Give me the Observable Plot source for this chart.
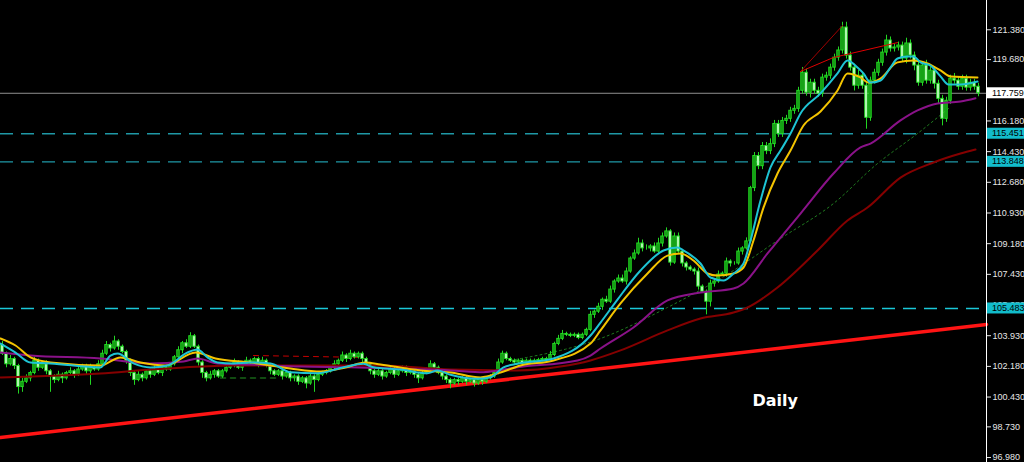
<!DOCTYPE html>
<html><head><meta charset="utf-8">
<script src="https://cdn.jsdelivr.net/npm/d3@7"></script>
<script src="https://cdn.jsdelivr.net/npm/@observablehq/plot@0.6"></script>
<style>
html,body{margin:0;padding:0;background:#000;overflow:hidden;}
svg{display:block;}
</style></head><body><div id="chart"></div>
<script>
// ---- Data (daily candles, index 0 = leftmost) ----
const firstOpen = 103.4;
const closes = [
  102.9,102.3,102.6,102.2,101.0,101.3,101.5,101.8,
  102.5,102.1,102.3,101.9,101.6,101.4,101.7,101.5,101.8,101.9,101.7,102.0,102.2,101.9,102.1,102.0,102.3,
  102.9,103.4,103.2,103.6,103.3,103.0,102.5,
  101.8,101.4,101.7,101.5,101.9,101.7,102.0,101.8,102.1,102.0,102.3,
  102.7,103.1,103.5,103.3,103.9,103.3,102.4,
  101.8,101.5,101.7,101.9,101.6,101.9,102.1,
  102.2,102.4,102.1,102.3,102.5,102.4,102.6,102.3,102.5,102.2,101.9,101.7,101.9,101.6,101.8,101.5,
  101.6,101.3,101.5,101.2,101.6,101.4,101.7,101.8,
  101.9,102.1,102.3,102.5,102.8,102.6,102.9,102.7,102.9,102.6,102.3,101.9,
  101.7,101.9,101.6,101.8,102.0,101.7,101.9,102.1,101.8,101.9,101.7,101.5,101.8,102.0,102.3,102.1,101.8,101.6,
  101.4,101.2,101.4,101.3,101.5,101.3,101.4,101.2,101.4,101.3,101.5,101.6,101.8,102.4,102.9,
  102.6,102.5,102.4,102.5,102.3,102.5,102.4,102.5,
  102.54,102.6,102.54,102.83,103.46,103.75,104.03,103.98,103.92,103.98,103.8,103.98,104.26,
  105.12,105.3,105.58,105.98,105.87,106.56,107.02,107.19,107.02,107.59,108.33,108.62,109.19,108.91,108.91,109.02,108.73,109.19,109.59,109.88,
  108.1,109.59,108.73,108.05,107.82,107.7,107.59,106.73,106.44,105.87,106.9,107.02,107.42,107.47,108.16,108.05,108.05,108.73,108.91,109.31,
  112.35,114.18,113.6,114.75,114.46,114.86,116.01,115.44,116.18,116.3,116.76,116.87,117.9,118.93,117.79,118.36,117.9,117.73,118.65,118.76,119.22,119.79,120.2,121.51,
  119.91,119.22,118.19,118.76,118.19,116.36,118.48,118.93,119.5,120.08,120.77,120.31,120.37,120.48,119.74,120.6,119.91,119.34,118.36,119.34,118.48,119.05,118.3,117.44,116.3,117.33,118.59,118.48,118.13,118.59,118.08,118.36,118.13,117.76
];
const upperWick = [
  .2,.1,.2,.1,.1,.2,.2,.1,
  .2,.1,.1,.2,.1,.1,.2,.1,.1,.2,.1,.2,.1,.1,.2,.1,.2,
  .2,.2,.1,.3,.1,.1,.1,
  .1,.1,.2,.1,.1,.1,.2,.1,.1,.1,.1,
  .1,.2,.1,.2,.2,.1,.1,
  .1,.1,.2,.1,.1,.1,.1,
  .1,.2,.1,.1,.2,.1,.1,.1,.2,.1,.1,.1,.1,.1,.1,.1,
  .1,.1,.1,.1,.2,.1,.1,.1,
  .1,.1,.2,.1,.2,.1,.2,.1,.1,.1,.1,.1,
  .1,.1,.1,.1,.1,.2,.1,.1,.1,.1,.1,.1,.1,.1,.2,.1,.1,.1,
  .1,.1,.1,.1,.1,.1,.1,.1,.1,.1,.1,.1,.1,.2,.15,
  .1,.1,.1,.1,.1,.1,.1,.1,
  .1,.1,.1,.2,.1,.2,.2,.1,.1,.1,.1,.1,.1,
  .2,.1,.2,.1,.2,.2,.1,.2,.2,.2,.1,.2,.3,.2,.2,.1,.2,.3,.2,.2,
  .1,.2,.2,.1,.1,.1,.1,.2,.1,.1,.2,.1,.2,.1,.2,.1,.1,.2,.1,.2,
  .1,.2,.2,.2,.2,.3,.2,.2,.2,.2,.2,.2,.2,.3,.2,.2,.2,.2,.2,.2,.2,.2,.2,.3,
  .3,.2,.2,.3,.2,.2,.2,.2,.2,.2,.3,.2,.2,.2,.2,.3,.2,.2,.2,.2,.3,.2,.2,.2,.2,.2,.2,.3,.2,.2,.2,.2,.2,.2
];
const lowerWick = [
  .1,.2,.1,.2,.4,.3,.1,.2,
  .1,.2,.1,.2,.9,.2,.1,.3,.1,.1,.2,.1,.1,.2,.8,.1,.1,
  .1,.1,.2,.1,.2,.1,.2,
  .2,.3,.1,.2,.1,.2,.1,.1,.2,.1,.1,
  .1,.1,.2,.1,.1,.1,.2,
  .3,.2,.1,.2,.1,.1,.1,
  .1,.1,.1,.2,.1,.1,.1,.2,.1,.1,.2,.1,.1,.2,.1,.2,
  .2,.2,.1,.3,.1,.7,.1,.1,
  .1,.1,.1,.1,.1,.2,.1,.1,.1,.2,.1,.2,
  .2,.1,.2,.1,.1,.2,.1,.1,.2,.1,.2,.3,.1,.1,.1,.2,.1,.2,
  .2,.3,.1,.2,.1,.2,.1,.2,.1,.2,.1,.1,.1,.1,.1,
  .1,.1,.1,.1,.1,.1,.1,.1,
  .1,.1,.1,.1,.1,.1,.1,.1,.1,.1,.1,.1,.1,
  .1,.2,.1,.2,.1,.1,.2,.1,.1,.2,.1,.1,.1,.2,.1,.2,.1,.1,.2,.1,
  .2,.1,.1,.2,.2,.1,.2,.2,.1,.75,.3,.2,.1,.1,.2,.2,.1,.1,.2,.1,
  .1,.2,.2,.2,.2,.2,.2,.2,.2,.2,.2,.2,.2,.2,.2,.3,.2,.2,.2,.2,.2,.2,.2,.2,
  .2,.2,.3,.2,.2,.65,.2,.2,.2,.2,.2,.2,.2,.2,.2,.3,.2,.3,.2,.2,.2,.2,.3,.3,.4,.2,.2,.2,.2,.2,.2,.2,.2,.2
];

// moving averages [candle index, price]
const maFast = [[-0.5,103.48],[3.25,102.97],[7,102.40],[12,102.35],[24.5,102.12],[27,102.80],[28.75,102.91],[32.75,102.35],[37,102.12],[41.25,102.23],[46.25,102.97],[48.75,103.14],[51.25,102.69],[53.75,102.40],[57.75,102.35],[62,102.40],[67,102.35],[72,101.85],[78.75,101.79],[85.25,102.13],[90.25,102.33],[92.75,102.13],[99.5,102.00],[106.25,101.79],[108.75,101.95],[112,101.70],[118.75,101.47],[122,101.56],[125.25,102.12],[128.75,102.33],[137.75,102.63],[147,103.94],[149.5,104.68],[153.75,105.99],[159.5,107.65],[165.25,108.79],[168.75,108.96],[170.25,108.79],[174.5,108.05],[177,107.25],[180.25,107.08],[182.75,107.48],[185.25,108.05],[187,109.36],[189.5,111.64],[192,113.53],[194.5,114.49],[197,115.46],[199.5,116.61],[204.5,117.75],[208.75,118.89],[211.25,119.63],[213.75,119.23],[215.25,118.89],[217,118.37],[219.5,118.49],[222,119.23],[223.75,119.74],[226.25,119.86],[227.75,119.86],[229.5,119.52],[232,119.34],[234.5,118.72],[236.5,118.26],[239.5,118.26],[243.75,118.43]];
const maSlow = [[-0.5,103.77],[3.25,103.37],[7,102.69],[12,102.40],[24.5,102.23],[29.5,102.69],[34.5,102.40],[40.75,102.23],[48.25,102.97],[53.25,102.63],[62,102.40],[72,102.06],[79.5,101.89],[85.75,102.12],[90.75,102.40],[94.5,102.29],[104.5,101.95],[112,101.83],[119.5,101.55],[124.5,101.83],[129.5,102.23],[137.75,102.52],[147,103.48],[149.5,104.23],[154.5,105.77],[161.25,107.48],[166.25,108.50],[169.5,108.62],[172.75,108.22],[176.25,107.48],[178.75,107.36],[182.75,107.48],[185.25,107.82],[187.75,109.36],[190.25,111.24],[193.75,113.18],[197,114.49],[200.25,115.92],[204.5,116.72],[208.75,117.92],[211.25,118.89],[214.5,118.66],[216.5,118.37],[219.5,118.60],[223.75,119.52],[227.75,119.63],[231.25,119.46],[234.5,119.06],[237,118.72],[243.75,118.66]];
const maMid = [[-0.5,102.97],[7,102.80],[24.5,102.63],[37,102.35],[45.25,102.46],[48.75,102.63],[53.75,102.35],[62,102.29],[74.5,102.17],[87,102.13],[99.5,102.04],[112,101.95],[120.25,101.85],[128.75,102.13],[143.75,102.52],[147,102.80],[149.5,103.20],[157.75,104.40],[166.25,105.94],[174.5,106.39],[182.75,106.62],[185.25,106.91],[191.25,108.62],[199.5,110.90],[207.75,113.18],[214.5,114.67],[217,114.89],[224.5,116.21],[228.75,116.78],[233.75,117.18],[239.5,117.29],[243.25,117.48]];
const maLong = [[-0.5,101.55],[24.5,101.77],[37,102.00],[45.25,102.12],[57.75,102.23],[74.5,102.23],[94.5,102.23],[112,102.00],[128.75,101.95],[139.5,102.17],[147,102.52],[154.5,103.09],[166.25,104.23],[174.5,104.91],[182.75,105.25],[186.25,105.54],[193.75,106.68],[203.75,108.79],[211.25,110.50],[216.25,111.24],[224.5,112.95],[232.75,113.81],[239.5,114.32],[243.25,114.55]];

// drawn lines
const trendSupport = [[-0.5,98.12],[246,104.57]];
const trendDotted = [[127,102.52],[149.5,103.77],[166.25,105.54],[182.75,107.65],[193.75,109.36],[207.75,111.47],[218.75,113.75],[228.75,115.46],[236.5,116.89]];
const peakLineA = [[199.5,119.0],[210,121.62]];
const peakLineB = [[199.5,119.0],[207.75,119.8],[223.75,120.65]];
const resistDashed = [[62.75,102.80],[90.25,102.69]];
const supportDashed = [[54.5,101.52],[68.75,101.52]];
const levelsUpper = [115.451, 113.848];
const levelsLower = [105.483];
const lastPrice = 117.759;
const tickValues = [121.38,119.68,116.18,114.43,112.68,110.93,109.18,107.43,105.68,103.93,102.18,100.43,98.73,96.98];
const annotation = [{text:"Daily", x:187.5, y:100.23}];

// ---- build ----
const candles = closes.map((c,i)=>{
  const o = i===0 ? firstOpen : closes[i-1];
  return {i, o, c, hi: Math.max(o,c)+upperWick[i], lo: Math.min(o,c)-lowerWick[i], up: c>=o};
});
const P = (arr, opts) => Plot.line(arr, {x:d=>d[0], y:d=>d[1], ...opts});

const chart = Plot.plot({
  width:1024, height:462,
  marginLeft:0, marginRight:38, marginTop:0, marginBottom:0,
  style:{background:"#000", color:"#e6e6e6", fontFamily:"'Liberation Sans', Arial, sans-serif", fontSize:"9px"},
  x:{domain:[-0.5,246], axis:null},
  y:{domain:[96.697,123.051], axis:null},
  marks:[
    Plot.ruleY(levelsUpper, {stroke:"#1f98a6", strokeWidth:1.3, strokeDasharray:"13,8"}),
    Plot.ruleY(levelsLower, {stroke:"#1ac8d8", strokeWidth:1.3, strokeDasharray:"13,8"}),
    Plot.ruleY([lastPrice], {stroke:"#8f8f8f", strokeWidth:1}),
    P(trendSupport, {stroke:"#ff1414", strokeWidth:3.5}),
    P(trendDotted, {stroke:"#1f7a1f", strokeWidth:1, strokeDasharray:"2,3", curve:"monotone-x"}),
    P(resistDashed, {stroke:"#c80000", strokeWidth:1, strokeDasharray:"5,5"}),
    P(supportDashed, {stroke:"#176417", strokeWidth:1.5, strokeDasharray:"5,5"}),
    Plot.ruleX(candles, {x:"i", y1:"lo", y2:"hi", stroke:"#22d622", strokeWidth:1}),
    Plot.rect(candles.filter(d=>d.up), {x1:d=>d.i-0.3, x2:d=>d.i+0.3, y1:"o", y2:"c", fill:"#108a10", stroke:"#22dc22", strokeWidth:1}),
    Plot.rect(candles.filter(d=>!d.up), {x1:d=>d.i-0.3, x2:d=>d.i+0.3, y1:"o", y2:"c", fill:"#eaffea", stroke:"#22e622", strokeWidth:1}),
    P(maLong, {stroke:"#850000", strokeWidth:2, curve:"monotone-x"}),
    P(maMid, {stroke:"#8a1289", strokeWidth:2, curve:"monotone-x"}),
    P(maSlow, {stroke:"#f4c400", strokeWidth:2, curve:"monotone-x"}),
    P(maFast, {stroke:"#1ec4d4", strokeWidth:2, curve:"monotone-x"}),
    P(peakLineA, {stroke:"#a00000", strokeWidth:1}),
    P(peakLineB, {stroke:"#e00000", strokeWidth:1}),
    Plot.ruleX([246], {stroke:"#ffffff", strokeWidth:1}),
    Plot.axisY(tickValues, {anchor:"right", tickFormat:d3.format(".3f"), tickSize:4, tickPadding:2, fontSize:9}),
    Plot.text(annotation, {x:"x", y:"y", text:"text", fill:"#ffffff", fontWeight:"bold", fontSize:16, fontFamily:"'DejaVu Sans', sans-serif", textAnchor:"start", lineAnchor:"middle"})
  ]
});

// price label boxes on the right axis, positioned with the chart's y scale
const ys = chart.scale("y");
const boxes = [
  {v:lastPrice, bg:"#ffffff", fg:"#000000"},
  {v:levelsUpper[0], bg:"#12bccb", fg:"#000000"},
  {v:levelsUpper[1], bg:"#12bccb", fg:"#000000"},
  {v:levelsLower[0], bg:"#12bccb", fg:"#000000"}
];
const svg = d3.select(chart);
const xr = chart.scale("x").range[1];
const g = svg.append("g")
  .attr("font-family","'Liberation Sans', Arial, sans-serif")
  .attr("font-size",9)
  .attr("text-anchor","start");
boxes.forEach(b=>{
  const y = ys.apply(b.v);
  g.append("rect").attr("x", xr+1).attr("y", y-5.5).attr("width", 1024-xr-1).attr("height", 11).attr("fill", b.bg);
  g.append("text").attr("x", xr+6).attr("y", y).attr("dy","0.34em").attr("text-anchor","start").attr("fill", b.fg).text(b.v.toFixed(3));
});
document.getElementById("chart").appendChild(chart);
</script>
</body></html>
